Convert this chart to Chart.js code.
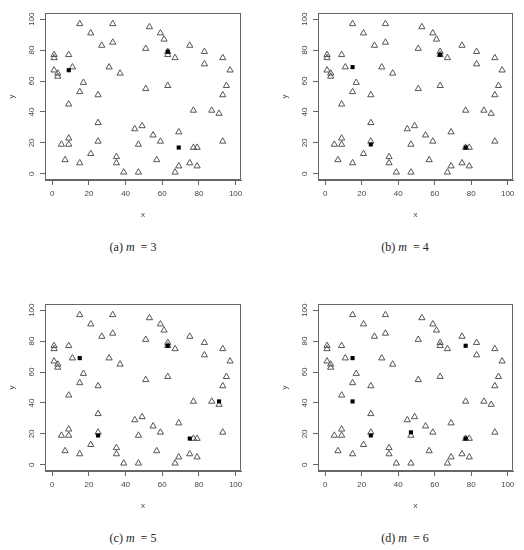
<!DOCTYPE html>
<html><head><meta charset="utf-8">
<script src="https://cdn.jsdelivr.net/npm/chart.js@4/dist/chart.umd.min.js"></script>
<style>
html,body{margin:0;padding:0;background:#fff;width:524px;height:550px;overflow:hidden}
body{position:relative}
.panel{position:absolute}
.cap{position:absolute;font-family:'Liberation Serif','DejaVu Serif',serif;font-size:12px;line-height:14px;color:#222;transform:translateX(-50%);white-space:pre}
</style></head><body>
<div class="panel" style="left:0;top:0;width:262px;height:230px"><canvas id="c0"></canvas></div>
<div class="panel" style="left:273px;top:0;width:251px;height:230px"><canvas id="c1"></canvas></div>
<div class="panel" style="left:0;top:291px;width:262px;height:230px"><canvas id="c2"></canvas></div>
<div class="panel" style="left:273px;top:291px;width:251px;height:230px"><canvas id="c3"></canvas></div>
<div class="cap" id="cap0" style="left:133px;top:240px"></div>
<div class="cap" id="cap1" style="left:405px;top:240px"></div>
<div class="cap" id="cap2" style="left:133px;top:531px"></div>
<div class="cap" id="cap3" style="left:405px;top:531px"></div>
<script>
// Data points (triangles)
const pointX = [15,33,21,53,59,61,27,33,51,75,83,63,63,67,93,83,1,1,9,11,31,1,3,3,37,97,17,15,25,51,63,95,93,9,77,87,91,25,45,49,55,69,9,25,59,93,5,9,47,77,79,21,35,7,57,15,35,75,69,79,39,47,67];
const pointY = [97,97,91,95,91,87,83,85,81,83,79,79,77,75,75,71,77,75,77,69,69,67,65,63,65,67,59,53,51,55,57,57,51,45,41,41,39,33,29,31,25,27,23,21,21,21,19,19,19,17,17,13,11,9,9,7,7,7,5,5,1,1,1];

// Centres (filled squares) for each m
const centerX3 = [9,63,69];
const centerY3 = [67,79,17];
const centerX4 = [15,63,25,77];
const centerY4 = [69,77,19,17];
const centerX5 = [15,63,91,25,75];
const centerY5 = [69,77,41,19,17];
const centerX6 = [77,15,15,47,25,77];
const centerY6 = [77,69,41,21,19,17];

const tickValues = [0,20,40,60,80,100];
const tickLabels = ['0','20','40','60','80','100'];
const panelLetters = ['(a)','(b)','(c)','(d)'];
const mValues = [3,4,5,6];
const xTitle = 'x';
const yTitle = 'y';

const centersX = [centerX3,centerX4,centerX5,centerX6];
const centersY = [centerY3,centerY4,centerY5,centerY6];

const toXY = (xs, ys) => xs.map((x,i)=>({x:x, y:ys[i]}));

const boxPlugin = {
  id:'box',
  afterDraw(chart){
    const a = chart.chartArea, ctx = chart.ctx;
    ctx.save();
    ctx.strokeStyle = '#666';
    ctx.lineWidth = 1;
    ctx.strokeRect(Math.round(a.left)+0.5, Math.round(a.top)+0.5, Math.round(a.right-a.left)-1, Math.round(a.bottom-a.top)-1);
    ctx.restore();
  }
};

const tickFont = {family:"'Liberation Sans', Arial, sans-serif", size:8};
const textColor = '#444';

function makeChart(idx, width, padRight){
  const canvas = document.getElementById('c'+idx);
  const axisCommon = {
    type:'linear',
    afterBuildTicks: s => { s.ticks = tickValues.map(v=>({value:v})); },
    grid:{display:true, drawOnChartArea:false, drawTicks:true, tickLength:5, color:'#666', tickColor:'#666', lineWidth:1},
    border:{display:true, color:'#666', width:1}
  };
  new Chart(canvas, {
    type:'scatter',
    data:{
      datasets:[
        {data: toXY(centersX[idx], centersY[idx]), pointStyle:'rect', pointRadius:2.9, backgroundColor:'#000', borderColor:'#000', borderWidth:0},
        {data: toXY(pointX, pointY), pointStyle:'triangle', pointRadius:3.6, backgroundColor:'rgba(0,0,0,0)', borderColor:'#555', borderWidth:1}
      ]
    },
    options:{
      responsive:false, animation:false, devicePixelRatio:1,
      layout:{padding:{left:0, top:13, right:padRight, bottom:0}},
      plugins:{legend:{display:false}, tooltip:{enabled:false}},
      scales:{
        x:Object.assign({}, axisCommon, {
          min:-3.96, max:102.96,
          afterFit: s => { s.height = 50; },
          ticks:{font:tickFont, color:textColor, padding:4, maxRotation:0, minRotation:0, autoSkip:false,
                 callback:(v)=>{ const i = tickValues.indexOf(v); return i>=0 ? tickLabels[i] : ''; }},
          title:{display:true, text:xTitle, font:tickFont, color:textColor, padding:{top:0,bottom:10}}
        }),
        y:Object.assign({}, axisCommon, {
          min:-4, max:104,
          afterFit: s => { s.width = 45; },
          ticks:{font:tickFont, color:textColor, padding:2, minRotation:90, maxRotation:90, crossAlign:'center', autoSkip:false,
                 callback:(v)=>{ const i = tickValues.indexOf(v); return i>=0 ? tickLabels[i] : ''; }},
          title:{display:true, text:yTitle, font:tickFont, color:textColor, padding:{top:7,bottom:0}}
        })
      }
    },
    plugins:[boxPlugin]
  });
  const cap = document.getElementById('cap'+idx);
  cap.innerHTML = panelLetters[idx] + ' <i>m</i>  = ' + mValues[idx];
}
[0,1,2,3].forEach(i=>{
  const c = document.getElementById('c'+i);
  const w = (i%2===0) ? 262 : 251;
  c.width = w; c.height = 230;
  c.style.width = w+'px'; c.style.height = '230px';
});
makeChart(0, 262, 21);
makeChart(1, 251, 11);
makeChart(2, 262, 21);
makeChart(3, 251, 11);
</script>
</body></html>
